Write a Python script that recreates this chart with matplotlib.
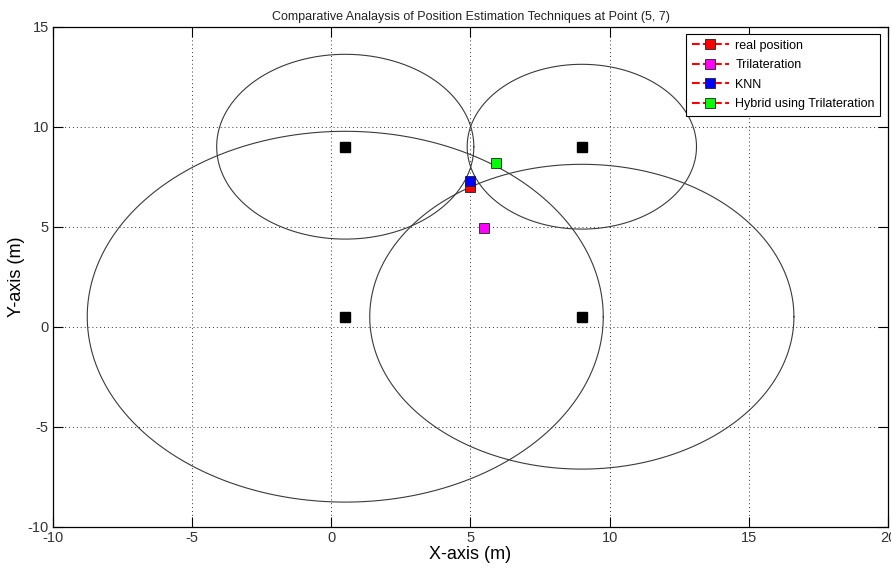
import numpy as np
import matplotlib
matplotlib.use('agg')
import matplotlib.pyplot as plt

plt.rcParams['font.family'] = ['Liberation Sans Narrow', 'Liberation Sans', 'DejaVu Sans']
plt.rcParams['axes.unicode_minus'] = False

# anchors (reference nodes) and estimated distances
anchor_x = [0.5, 9.0, 0.5, 9.0]
anchor_y = [9.0, 9.0, 0.5, 0.5]
radios = [4.62, 4.12, 9.27, 7.62]

# estimated positions
etiquetas = ['real position', 'Trilateration', 'KNN', 'Hybrid using Trilateration']
pos_x = [5.0, 5.5, 5.0, 5.93]
pos_y = [7.0, 4.95, 7.3, 8.2]
colores = ['#ff0000', '#ff00ff', '#0000ff', '#00ff00']

fig = plt.figure(figsize=(8.91, 5.73), dpi=100)
ax = fig.add_axes([53 / 891, 1 - 526.7 / 573, (888 - 53) / 891, 500 / 573])

t = np.linspace(0, 2 * np.pi, 400)
for cx, cy, r in zip(anchor_x, anchor_y, radios):
    ax.plot(cx + r * np.cos(t), cy + r * np.sin(t), color='#3a3a3a', lw=0.8)

ax.plot(anchor_x, anchor_y, 's', color='k', markersize=7, linestyle='none')

for x, y, c, lab in zip(pos_x, pos_y, colores, etiquetas):
    ax.plot([x], [y], 's', linestyle='--', color='#ff0000', markerfacecolor=c,
            markeredgecolor='#202020', markeredgewidth=0.6, markersize=7, label=lab)

ax.set_xlim(-10, 20)
ax.set_ylim(-10, 15)
ax.set_xticks(range(-10, 21, 5))
ax.set_yticks(range(-10, 16, 5))
ax.grid(True, linestyle=(0, (1, 3)), color='#333333', lw=0.7)
ax.tick_params(direction='in', length=7, top=True, right=True, labelsize=10.5,
               labelcolor='#333333', pad=3)
for s in ax.spines.values():
    s.set_linewidth(0.9)

ax.set_title('Comparative Analaysis of Position Estimation Techniques at Point (5, 7)',
             fontsize=9, pad=5, color='#222222')
ax.set_xlabel('X-axis (m)', fontsize=13, labelpad=1)
ax.set_ylabel('Y-axis (m)', fontsize=13, labelpad=2)

leg = ax.legend(loc='upper right', fontsize=9, fancybox=False, framealpha=1,
                edgecolor='k', borderaxespad=0.6, handlelength=3, labelspacing=0.6,
                borderpad=0.45, handletextpad=0.5)
leg.get_frame().set_linewidth(0.8)

plt.savefig('out.png', dpi=100)
plt.close()
